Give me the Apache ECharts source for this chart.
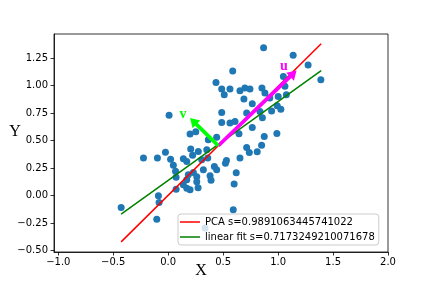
<!DOCTYPE html>
<html>
<head>
<meta charset="utf-8">
<script src="https://cdn.jsdelivr.net/npm/echarts@6/dist/echarts.min.js"></script>
<style>html,body{margin:0;padding:0;background:#fff;}#c{width:432px;height:288px;}</style>
</head>
<body>
<div id="c"></div>
<script>
// ---- data ----
const pointsX = [0.868,1.137,1.273,1.389,0.587,0.435,0.487,0.510,0.562,0.653,0.698,0.744,0.853,0.880,0.689,0.765,0.924,1.048,1.062,1.001,1.075,0.487,0.714,0.835,0.941,0.992,1.025,0.857,0.487,0.562,0.608,0.765,0.644,0.874,0.989,0.714,0.738,0.810,0.850,0.441,0.365,0.653,0.530,0.521,0.420,0.441,0.381,0.390,0.619,0.600,0.592,0.335,0.008,0.199,0.251,-0.225,-0.098,-0.025,0.022,0.047,0.067,0.072,0.072,0.138,0.169,0.205,0.222,0.274,0.351,0.360,0.320,0.169,0.183,0.229,0.260,0.260,0.199,0.169,0.272,0.138,-0.089,-0.083,-0.104,-0.428,0.305];
const pointsY = [1.344,1.274,1.186,1.053,1.132,1.028,0.968,0.916,0.968,0.953,0.977,0.968,0.977,0.932,0.877,0.835,0.886,1.083,0.994,0.901,0.916,0.755,0.750,0.765,0.769,0.816,0.785,0.707,0.665,0.659,0.674,0.619,0.562,0.537,0.565,0.436,0.392,0.398,0.457,0.530,0.507,0.341,0.319,0.295,0.265,0.235,0.180,0.139,0.207,0.105,-0.129,-0.295,0.730,0.559,0.580,0.341,0.341,0.394,0.330,0.275,0.221,0.168,0.059,0.336,0.310,0.423,0.366,0.401,0.416,0.341,0.235,0.144,0.189,0.210,0.171,0.125,0.053,0.068,0.071,0.098,-0.002,-0.063,-0.214,-0.108,0.325];

const lineX = [-0.428, 1.392];
const pcaY = [-0.42, 1.38];
const fitY = [-0.168, 1.135];
const legendNames = ['PCA s=0.9891063445741022', 'linear fit s=0.7173249210071678'];

const arrowStart = [0.456, 0.453];
const arrowTipsX = [1.168, 0.199];
const arrowTipsY = [1.137, 0.705];
const arrowLabels = ['u', 'v'];
const arrowLabelX = [1.053, 0.135];
const arrowLabelY = [1.171, 0.735];
const arrowColors = ['#ff00ff', '#00ff00'];

const xTicks = [-1.0, -0.5, 0.0, 0.5, 1.0, 1.5, 2.0];
const yTicks = [-0.5, -0.25, 0.0, 0.25, 0.5, 0.75, 1.0, 1.25];

// ---- build ----
const scatterData = pointsX.map((x, i) => [x, pointsY[i]]);
const arrowData = arrowTipsX.map((x, i) => [arrowStart[0], arrowStart[1], x, arrowTipsY[i], arrowLabelX[i], arrowLabelY[i]]);
const fmt = (v, d) => (v < 0 ? '\u2212' : '') + Math.abs(v).toFixed(d);

const chart = echarts.init(document.getElementById('c'), null, {renderer: 'canvas'});
const tickFont = {fontFamily: 'DejaVu Sans', fontSize: 10, color: '#000'};
chart.setOption({
  animation: false,
  backgroundColor: '#fff',
  grid: {left: 54, top: 34, right: 44, bottom: 36, show: true, borderColor: '#000', borderWidth: 0.8, backgroundColor: 'transparent'},
  xAxis: {
    type: 'value', min: -1.039, max: 2.0,
    axisLine: {show: true, onZero: false, lineStyle: {color: '#000', width: 0.8}},
    axisTick: {show: true, length: 3.5, lineStyle: {color: '#000', width: 0.8}, customValues: xTicks},
    axisLabel: Object.assign({margin: 5, customValues: xTicks, formatter: v => fmt(v, 1)}, tickFont),
    splitLine: {show: false}
  },
  yAxis: {
    type: 'value', min: -0.512, max: 1.468,
    axisLine: {show: true, onZero: false, lineStyle: {color: '#000', width: 0.8}},
    axisTick: {show: true, length: 3.5, lineStyle: {color: '#000', width: 0.8}, customValues: yTicks},
    axisLabel: Object.assign({margin: 6, customValues: yTicks, formatter: v => fmt(v, 2)}, tickFont),
    splitLine: {show: false}
  },
  legend: {
    data: legendNames,
    orient: 'vertical', left: 178, top: 214,
    icon: 'rect', itemWidth: 20, itemHeight: 1.5, itemGap: 3,
    padding: [2, 4, 2, 2],
    backgroundColor: 'rgba(255,255,255,0.8)', borderColor: '#cccccc', borderWidth: 1, borderRadius: 3,
    textStyle: {fontFamily: 'DejaVu Sans', fontSize: 10, color: '#000', lineHeight: 12}
  },
  series: [
    {type: 'scatter', data: scatterData, symbolSize: 7, itemStyle: {color: '#1f77b4', opacity: 1}, z: 1},
    {type: 'line', name: legendNames[0], data: lineX.map((x, i) => [x, pcaY[i]]), showSymbol: false, symbol: 'none', lineStyle: {color: '#ff0000', width: 1.5}, itemStyle: {color: '#ff0000'}, z: 2},
    {type: 'line', name: legendNames[1], data: lineX.map((x, i) => [x, fitY[i]]), showSymbol: false, symbol: 'none', lineStyle: {color: '#008000', width: 1.5}, itemStyle: {color: '#008000'}, z: 2},
    {
      type: 'custom', data: arrowData, z: 3,
      renderItem: function (params, api) {
        const p0 = api.coord([api.value(0), api.value(1)]);
        const p1 = api.coord([api.value(2), api.value(3)]);
        const lp = api.coord([api.value(4), api.value(5)]);
        const dx = p1[0] - p0[0], dy = p1[1] - p0[1];
        const L = Math.hypot(dx, dy);
        const ux = dx / L, uy = dy / L, nx = -uy, ny = ux;
        const hl = 9, hw = 5.5, sw = 1.9;
        const bx = p1[0] - ux * hl, by = p1[1] - uy * hl;
        const pts = [
          [p0[0] + nx * sw, p0[1] + ny * sw],
          [bx + nx * sw, by + ny * sw],
          [bx + nx * hw, by + ny * hw],
          [p1[0], p1[1]],
          [bx - nx * hw, by - ny * hw],
          [bx - nx * sw, by - ny * sw],
          [p0[0] - nx * sw, p0[1] - ny * sw]
        ];
        const col = arrowColors[params.dataIndex];
        return {
          type: 'group',
          children: [
            {type: 'polygon', shape: {points: pts}, style: {fill: col}},
            {type: 'text', x: lp[0], y: lp[1], style: {text: arrowLabels[params.dataIndex], fill: col, font: 'bold 14px "Liberation Serif"', align: 'center', verticalAlign: 'middle'}}
          ]
        };
      }
    }
  ],
  graphic: [
    {type: 'text', x: 201, y: 271, style: {text: 'X', font: '16px "Liberation Serif"', fill: '#000', align: 'center', verticalAlign: 'middle'}},
    {type: 'text', x: 15, y: 132, style: {text: 'Y', font: '16px "Liberation Serif"', fill: '#000', align: 'center', verticalAlign: 'middle'}}
  ]
});
</script>
</body>
</html>
